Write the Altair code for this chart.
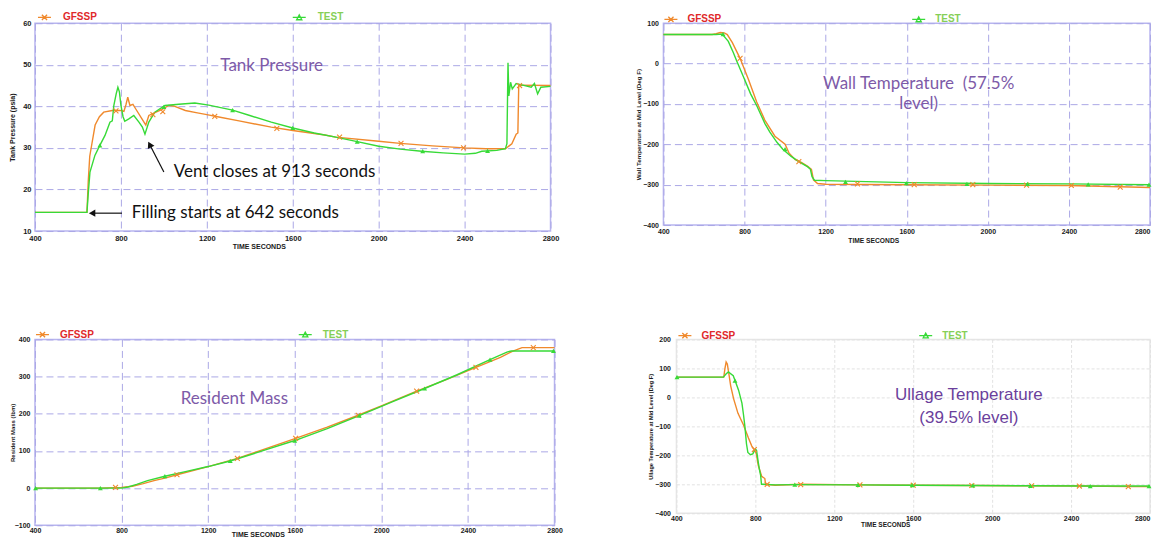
import altair as alt
import pandas as pd

# ---------------- Tank Pressure (psia) ----------------
P1_GF_T = [400, 642, 648, 655, 665, 680, 700, 720, 760, 800, 814, 824, 832, 842, 856, 870, 898, 916, 930, 958, 990, 1023, 1045, 1100, 1150, 1200, 1250, 1350, 1500, 1600, 1750, 1800, 2000, 2100, 2250, 2400, 2500, 2590, 2620, 2640, 2648, 2652, 2800]
P1_GF_V = [14.5, 14.5, 22, 28, 31, 35.5, 37.5, 38.6, 39, 39, 38.8, 40.5, 42.2, 40.2, 40.5, 39.3, 37, 35.5, 37.8, 38.5, 39.2, 40.2, 40.1, 39, 38.5, 38, 37.5, 36.5, 35, 34.2, 33.1, 32.6, 31.6, 31.1, 30.5, 30, 29.8, 29.8, 31, 33.3, 33.6, 45.1, 45]
P1_TS_T = [400, 642, 648, 656, 679, 702, 726, 749, 760, 767, 778, 786, 793, 800, 810, 818, 837, 860, 884, 900, 912, 930, 958, 1005, 1070, 1144, 1209, 1320, 1400, 1500, 1600, 1700, 1800, 1900, 2000, 2100, 2200, 2300, 2400, 2450, 2480, 2550, 2590, 2597, 2602, 2606, 2614, 2622, 2640, 2680, 2710, 2725, 2740, 2755, 2800]
P1_TS_V = [14.5, 14.5, 19, 24.2, 28.2, 30.6, 33, 36.2, 36.5, 40.2, 43, 44.6, 43.5, 40.3, 37.5, 36.4, 37, 37.8, 36.2, 35, 33.3, 36.2, 38.6, 40.2, 40.5, 40.8, 40.3, 39.1, 37.8, 36.2, 34.8, 33.6, 32.6, 31.5, 30.4, 29.7, 29.2, 28.8, 28.5, 28.7, 29.2, 29.4, 29.8, 31, 50.5, 42.5, 45.8, 44.2, 45.5, 45, 44.6, 45.5, 43, 44.6, 44.8]
P1_MK_GF_T = [777, 949, 995, 1237, 1526, 1818, 2104, 2395, 2656]
P1_MK_GF_V = [38.9, 38, 38.7, 37.6, 34.7, 32.6, 31.1, 30, 45]
P1_MK_TS_T = [702, 1000, 1320, 1600, 1900, 2205, 2507]
P1_MK_TS_V = [30.6, 39.9, 39.1, 34.8, 31.5, 29.2, 29.3]

# ---------------- Wall Temperature (57.5% level) ----------------
P2_GF_T = [400, 640, 660, 680, 700, 715, 740, 778, 820, 860, 900, 950, 1000, 1020, 1050, 1080, 1110, 1130, 1140, 1160, 1200, 1600, 2000, 2400, 2800]
P2_GF_V = [72, 72, 74, 77, 76, 72, 52, 13, -40, -95, -140, -180, -200, -222, -238, -245, -254, -262, -288, -297, -299, -300, -301, -302, -307]
P2_TS_T = [400, 640, 660, 690, 720, 744, 760, 793, 830, 861, 900, 925, 960, 989, 1030, 1072, 1112, 1125, 1133, 1145, 1200, 1600, 2000, 2400, 2800]
P2_TS_V = [72, 72, 72, 73, 55, 28, 8, -31, -75, -105, -148, -170, -195, -212, -230, -244, -256, -262, -280, -289, -290, -295, -297, -298, -300]
P2_MK_GF_T = [778, 1068, 1357, 1637, 1926, 2191, 2412, 2653]
P2_MK_GF_V = [13, -243, -298, -300, -300, -301, -302, -306]
P2_MK_TS_T = [694, 1000, 1298, 1598, 1897, 2196, 2495, 2795]
P2_MK_TS_V = [73, -212, -293, -296, -298, -298, -299, -300]

# ---------------- Resident Mass (lbm) ----------------
P3_GF_T = [400, 700, 800, 850, 900, 950, 1000, 1056, 1200, 1335, 1450, 1604, 1750, 1893, 2000, 2163, 2300, 2437, 2550, 2605, 2650, 2800]
P3_GF_V = [0, 0, 2, 5, 12, 20, 27, 36, 58, 80, 103, 134, 164, 196, 221, 261, 292, 325, 352, 368, 378, 378]
P3_TS_T = [400, 800, 830, 870, 920, 1000, 1100, 1200, 1302, 1450, 1600, 1750, 1898, 2050, 2200, 2350, 2502, 2580, 2600, 2800]
P3_TS_V = [0, 0, 3, 10, 20, 32, 45, 58, 73, 100, 128, 160, 195, 232, 268, 305, 346, 366, 369, 369]
P3_MK_GF_T = [772, 1056, 1335, 1604, 1893, 2163, 2437, 2702]
P3_MK_GF_V = [2, 36, 80, 134, 196, 261, 325, 378]
P3_MK_TS_T = [403, 702, 1000, 1302, 1600, 1898, 2200, 2502, 2795]
P3_MK_TS_V = [0, 0, 32, 73, 128, 195, 268, 346, 369]

# ---------------- Ullage Temperature (39.5% level) ----------------
P4_GF_T = [400, 640, 646, 652, 658, 665, 675, 690, 712, 740, 765, 782, 795, 805, 815, 832, 848, 852, 900, 1030, 1330, 1600, 1920, 2200, 2450, 2700, 2800]
P4_GF_V = [70, 70, 100, 122, 115, 85, 40, -5, -55, -95, -140, -168, -180, -195, -235, -272, -280, -300, -303, -300, -302, -303, -304, -305, -306, -308, -308]
P4_TS_T = [400, 638, 650, 663, 688, 697, 715, 732, 740, 747, 755, 762, 775, 787, 800, 806, 815, 821, 827, 831, 838, 900, 1000, 1320, 1600, 1900, 2200, 2500, 2800]
P4_TS_V = [70, 70, 80, 88, 75, 58, 25, -20, -60, -100, -160, -190, -198, -195, -178, -183, -225, -250, -270, -300, -300, -302, -301, -302, -303, -304, -305, -306, -306]
P4_MK_GF_T = [795, 860, 1030, 1330, 1600, 1897, 2200, 2442, 2690]
P4_MK_GF_V = [-180, -300, -301, -302, -303, -304, -305, -306, -308]
P4_MK_TS_T = [403, 697, 1000, 1320, 1595, 1902, 2194, 2497, 2795]
P4_MK_TS_V = [70, 58, -301, -302, -303, -304, -305, -306, -306]

X_TICKS = [400, 800, 1200, 1600, 2000, 2400, 2800]
SERIES = ["GFSSP", "TEST"]

ORANGE = "#f0892c"
GREEN = "#37da37"
RED_LBL = "#e0282a"
GREEN_LBL = "#86cf57"
PURPLE = "#7d5aa8"
FONT = "Liberation Sans"
XPATH = "M-1,-1L1,1M-1,1L1,-1"
LEG_GF = "M-1,0L1,0M-0.4,-0.4L0.4,0.4M-0.4,0.4L0.4,-0.4"
LEG_TS = "M-1,0L1,0M-0.4,0.35L0,-0.4L0.4,0.35Z"


def make_panel(width, height, tg, vg, tt, vt, mtg, mvg, mtt, mvt, ydom, yvals, ytitle,
               style, texts, arrows=None, heads=None):
    lines = pd.DataFrame({"t": tg + tt, "v": vg + vt,
                          "series": [SERIES[0]] * len(tg) + [SERIES[1]] * len(tt)})
    mk_g = pd.DataFrame({"t": mtg, "v": mvg})
    mk_t = pd.DataFrame({"t": mtt, "v": mvt})

    grid_kw = dict(grid=True, gridColor=style["grid"], gridDash=style["dash"], gridWidth=1)
    common = dict(domain=False, ticks=False, format="d", labelFont=FONT,
                  labelFontSize=style["lfs"], labelFontWeight="bold", labelColor="#1a1a1a",
                  labelFlush=False, labelOverlap=False, titleFont=FONT,
                  titleFontWeight="bold", titleColor="#1a1a1a",
                  titleBaseline="middle", titleAlign="center")
    xaxis = alt.Axis(values=X_TICKS, title="TIME SECONDS", labelPadding=style["xlp"],
                     titleFontSize=style["xtfs"], titleX=style["xtx"], titleY=style["xty"],
                     labelAlign=alt.ExprRef(expr=style.get("xla", "'center'")),
                     **grid_kw, **common)
    yaxis = alt.Axis(values=yvals, title=ytitle, labelPadding=style["ylp"],
                     titleFontSize=style["ytfs"], titleX=style["ytx"], titleY=height / 2,
                     titleAngle=270, **grid_kw, **common)
    x_enc = alt.X("t:Q", scale=alt.Scale(domain=[400, 2800], nice=False, zero=False), axis=xaxis)
    y_enc = alt.Y("v:Q", scale=alt.Scale(domain=ydom, nice=False, zero=False), axis=yaxis)

    legend = alt.Legend(
        orient="none", legendX=style["lx"], legendY=style["ly"], direction="horizontal",
        title=None, padding=0, columnPadding=style["cp"], labelOffset=style["lo"],
        symbolSize=169, symbolStrokeWidth=1.3,
        symbolType=alt.ExprRef(expr=f"datum.label == 'GFSSP' ? '{LEG_GF}' : '{LEG_TS}'"),
        labelFont=FONT, labelFontSize=10, labelFontWeight="bold",
        labelColor=alt.ExprRef(expr=f"datum.label == 'GFSSP' ? '{RED_LBL}' : '{GREEN_LBL}'"),
    )
    line = alt.Chart(lines).mark_line(strokeWidth=1.4).encode(
        x=x_enc, y=y_enc,
        color=alt.Color("series:N", scale=alt.Scale(domain=SERIES, range=[ORANGE, GREEN]),
                        legend=legend))
    pts_g = alt.Chart(mk_g).mark_point(shape=XPATH, size=24, stroke=ORANGE, strokeWidth=1.1,
                                       filled=False, opacity=1).encode(x=x_enc, y=y_enc)
    pts_t = alt.Chart(mk_t).mark_point(shape="triangle-up", size=24, fill=GREEN, filled=True,
                                       opacity=1).encode(x=x_enc, y=y_enc)
    layers = [line, pts_g, pts_t]

    for tx in texts:
        df = pd.DataFrame({"t": [tx["t"]], "v": [tx["v"]], "label": [tx["text"]]})
        layers.append(alt.Chart(df).mark_text(
            font=tx["font"], fontSize=tx["size"], color=tx["color"], align=tx["align"],
            baseline="middle", lineBreak="\n", lineHeight=tx.get("lh", 20)
        ).encode(x=x_enc, y=y_enc, text="label:N"))
    if arrows:
        adf = pd.DataFrame(arrows)
        layers.append(alt.Chart(adf).mark_rule(color="#111111", strokeWidth=1.2).encode(
            x=x_enc, y=y_enc, x2="t2:Q", y2="v2:Q"))
    if heads:
        for h in heads:
            hdf = pd.DataFrame({"t": [h["t"]], "v": [h["v"]]})
            layers.append(alt.Chart(hdf).mark_point(shape=h["shape"], angle=h["angle"], size=55,
                                                    filled=True, fill="#111111", opacity=1)
                          .encode(x=x_enc, y=y_enc))

    return alt.layer(*layers).properties(
        width=width, height=height,
        view=alt.ViewBackground(stroke=style["frame"], strokeWidth=1.5))


LILAC = dict(grid="#aba8e6", dash=[7, 4], frame="#b8b5ef")
LAST_RIGHT = "datum.value == 2800 ? 'right' : 'center'"

p1 = make_panel(
    516, 208, P1_GF_T, P1_GF_V, P1_TS_T, P1_TS_V, P1_MK_GF_T, P1_MK_GF_V, P1_MK_TS_T, P1_MK_TS_V,
    [10, 60], [10, 20, 30, 40, 50, 60], "Tank Pressure (psia)",
    dict(LILAC, lfs=7.5, xlp=3, xtfs=7, xtx=224, xty=15, ylp=4, ytfs=7, ytx=-22,
         lx=2, ly=-13.5, cp=193, lo=11),
    [dict(t=1502, v=49.7, text="Tank Pressure", font="Lato", size=17, color=PURPLE, align="center"),
     dict(t=1046, v=24.2, text="Vent closes at 913 seconds", font="Lato", size=17, color="#111111", align="left"),
     dict(t=851, v=14.3, text="Filling starts at 642 seconds", font="Lato", size=17, color="#111111", align="left")],
    arrows=[dict(t=1000, v=24.2, t2=934, v2=30.8), dict(t=805, v=14.3, t2=668, v2=14.3)],
    heads=[dict(t=934, v=30.8, shape="triangle-up", angle=333),
           dict(t=666, v=14.3, shape="triangle-left", angle=0)],
)

p2 = make_panel(
    487, 202, P2_GF_T, P2_GF_V, P2_TS_T, P2_TS_V, P2_MK_GF_T, P2_MK_GF_V, P2_MK_TS_T, P2_MK_TS_V,
    [-400, 100], [-400, -300, -200, -100, 0, 100], "Wall Temperature at Mid Level (Deg F)",
    dict(LILAC, lfs=7, xlp=2.5, xtfs=6.7, xtx=210, xty=15, ylp=5, ytfs=6.2, ytx=-25,
         lx=0, ly=-11.5, cp=188, lo=9, xla=LAST_RIGHT),
    [dict(t=1659, v=-51, text="Wall Temperature\u00a0 (57.5%\nlevel)", font="Lato", size=17,
          color=PURPLE, align="center", lh=20)],
)

p3 = make_panel(
    520, 186, P3_GF_T, P3_GF_V, P3_TS_T, P3_TS_V, P3_MK_GF_T, P3_MK_GF_V, P3_MK_TS_T, P3_MK_TS_V,
    [-100, 400], [-100, 0, 100, 200, 300, 400], "Resident Mass (lbm)",
    dict(LILAC, lfs=7, xlp=1.5, xtfs=7, xtx=223, xty=9.5, ylp=5, ytfs=6, ytx=-22.5,
         lx=0, ly=-12.5, cp=202, lo=10, ),
    [dict(t=1321, v=241, text="Resident Mass", font="Lato", size=17, color=PURPLE, align="center")],
)

p4 = make_panel(
    474, 174, P4_GF_T, P4_GF_V, P4_TS_T, P4_TS_V, P4_MK_GF_T, P4_MK_GF_V, P4_MK_TS_T, P4_MK_TS_V,
    [-400, 200], [-400, -300, -200, -100, 0, 100, 200], "Ullage Temperature at Mid Level (Deg F)",
    dict(grid="#e2e2e2", dash=[3, 2], frame="#e6e6e6", lfs=7, xlp=1.5, xtfs=6.5, xtx=209,
         xty=11, ylp=6, ytfs=5.6, ytx=-26, lx=1, ly=-11.5, cp=181, lo=9, xla=LAST_RIGHT),
    [dict(t=1882, v=8.6, text="Ullage Temperature\n(39.5% level)", font=FONT, size=17,
          color="#6b3f9c", align="center", lh=23)],
)

row1 = alt.hconcat(p1, p2, spacing=113, bounds="flush").resolve_scale(
    color="independent").resolve_legend(color="independent")
row2 = alt.hconcat(p3, p4, spacing=122, bounds="flush").resolve_scale(
    color="independent").resolve_legend(color="independent")
chart = alt.vconcat(row1, row2, spacing=75.5).resolve_scale(
    color="independent").resolve_legend(color="independent").properties(
    padding=0).configure(background="white")

chart.save("out.html", embed_options={"renderer": "svg", "actions": False})
